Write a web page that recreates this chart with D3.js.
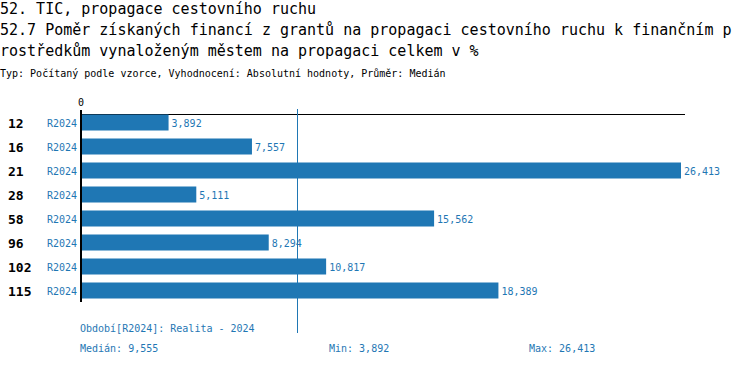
<!DOCTYPE html>
<html><head><meta charset="utf-8">
<script src="https://cdn.jsdelivr.net/npm/d3@7"></script>
<style>
body{margin:0;background:#fff;}
text{font-family:"DejaVu Sans Mono",monospace;}
</style></head>
<body><svg id="c" width="750" height="366"></svg>
<script>
const titleLines = ["52. TIC, propagace cestovního ruchu",
  "52.7 Poměr získaných financí z grantů na propagaci cestovního ruchu k finančním p",
  "rostředkům vynaloženým městem na propagaci celkem v %"];
const subtitle = "Typ: Počítaný podle vzorce, Vyhodnocení: Absolutní hodnoty, Průměr: Medián";
const categories = ["12","16","21","28","58","96","102","115"];
const period = "R2024";
const values = [3.892, 7.557, 26.413, 5.111, 15.562, 8.294, 10.817, 18.389];
const median = 9.555;
const footerPeriod = "Období[R2024]: Realita - 2024";
const blue = "#1f77b4";
const fmt = v => d3.format(",.3f")(v).replace(".", ",");

const svg = d3.select("#c");
titleLines.forEach((t,i)=>svg.append("text").attr("x",0).attr("y",14+i*21)
  .attr("font-size",15).attr("fill","#000").text(t));
svg.append("text").attr("x",0).attr("y",77).attr("font-size",10).text(subtitle);

const x = d3.scaleLinear().domain([0, d3.max(values)]).range([80, 681]);
const y = d3.scaleBand().domain(categories).range([110.5, 302.5]).paddingInner(1/3).paddingOuter(1/6);

// axis line top
svg.append("line").attr("x1",80).attr("x2",685).attr("y1",114.5).attr("y2",114.5)
  .attr("stroke","#000").attr("stroke-width",1.2);
svg.append("text").attr("x",x(0)+1).attr("y",106).attr("font-size",10).attr("text-anchor","middle").text("0");

// median line
svg.append("line").attr("x1",Math.floor(x(median))+0.5).attr("x2",Math.floor(x(median))+0.5)
  .attr("y1",109).attr("y2",333).attr("stroke",blue).attr("stroke-width",1);

svg.selectAll("rect.bar").data(values).join("rect").attr("class","bar")
  .attr("x",x(0)).attr("y",(d,i)=>y(categories[i]))
  .attr("width",d=>x(d)-x(0)).attr("height",y.bandwidth()).attr("fill",blue);

svg.selectAll("text.val").data(values).join("text").attr("class","val")
  .attr("x",d=>x(d)+3).attr("y",(d,i)=>y(categories[i])+y.bandwidth()/2+4)
  .attr("font-size",10).attr("fill",blue).text(d=>fmt(d));

svg.selectAll("text.cat").data(categories).join("text").attr("class","cat")
  .attr("x",8).attr("y",d=>y(d)+y.bandwidth()/2+5)
  .attr("font-size",13).attr("font-weight","bold").attr("fill","#000").text(d=>d);

svg.selectAll("text.per").data(categories).join("text").attr("class","per")
  .attr("x",77).attr("y",d=>y(d)+y.bandwidth()/2+4).attr("text-anchor","end")
  .attr("font-size",10).attr("fill",blue).text(period);

// vertical axis
svg.append("line").attr("x1",81).attr("x2",81).attr("y1",110).attr("y2",302)
  .attr("stroke","#000").attr("stroke-width",2);

svg.append("text").attr("x",80).attr("y",332).attr("font-size",10).attr("fill",blue).text(footerPeriod);
svg.append("text").attr("x",80).attr("y",352).attr("font-size",10).attr("fill",blue).text("Medián: "+fmt(median));
svg.append("text").attr("x",329).attr("y",352).attr("font-size",10).attr("fill",blue).text("Min: "+fmt(d3.min(values)));
svg.append("text").attr("x",529).attr("y",352).attr("font-size",10).attr("fill",blue).text("Max: "+fmt(d3.max(values)));
</script></body></html>
